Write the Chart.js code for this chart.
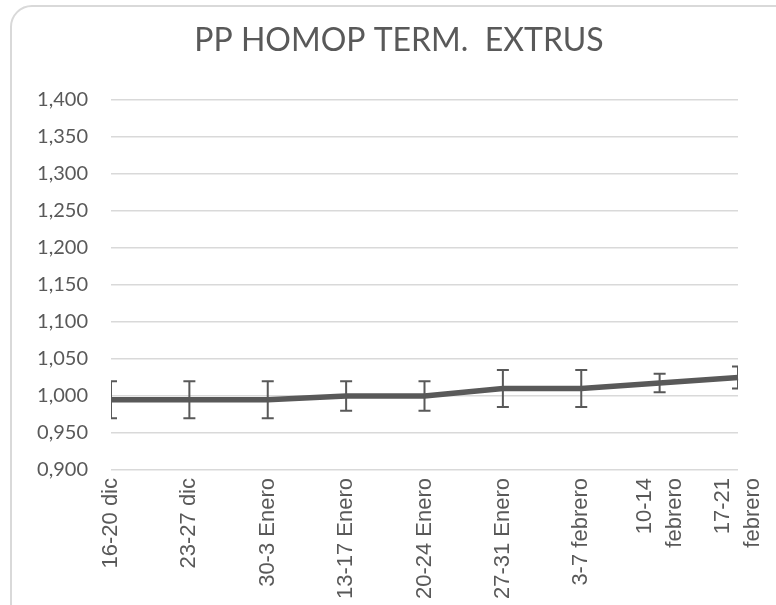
<!DOCTYPE html>
<html>
<head>
<meta charset="utf-8">
<script src="https://cdn.jsdelivr.net/npm/chart.js@4"></script>
<style>
    html, body { margin: 0; padding: 0; background: #fff; }
    .wrap { position: relative; width: 776px; height: 605px; overflow: hidden; }
    .frame { position: absolute; left: 10px; top: 5px; width: 790px; height: 620px; border: 2px solid #d9d9d9; border-radius: 22px; }
    canvas { position: absolute; left: 0; top: 0; }
</style>
</head>
<body>
<div class="wrap">
    <div class="frame"></div>
    <canvas id="chart" width="776" height="605"></canvas>
</div>
<script>
// Datos
const semanas = ['16-20 dic', '23-27 dic', '30-3 Enero', '13-17 Enero', '20-24 Enero', '27-31 Enero', '3-7 febrero', ['10-14', 'febrero'], ['17-21', 'febrero']];
const valores = [0.995, 0.995, 0.995, 1.000, 1.000, 1.010, 1.010, 1.0175, 1.025];
const errores = [0.025, 0.025, 0.025, 0.020, 0.020, 0.025, 0.025, 0.0125, 0.015];
const yTicks = [0.900, 0.950, 1.000, 1.050, 1.100, 1.150, 1.200, 1.250, 1.300, 1.350, 1.400];

const gris = '#595959';
const fmtTick = v => v.toFixed(3).replace('.', ',');

// barras de error, recortadas al área del gráfico
const errorBars = {
    id: 'errorBars',
    afterDatasetsDraw(chart) {
        const { ctx, chartArea: a, scales: { x, y } } = chart;
        ctx.save();
        ctx.beginPath();
        ctx.rect(a.left, a.top, a.right - a.left, a.bottom - a.top);
        ctx.clip();
        ctx.strokeStyle = gris;
        ctx.lineWidth = 2;
        valores.forEach((v, i) => {
            const px = x.getPixelForValue(i);
            const top = y.getPixelForValue(v + errores[i]);
            const bot = y.getPixelForValue(v - errores[i]);
            ctx.beginPath();
            ctx.moveTo(px, top); ctx.lineTo(px, bot);
            ctx.moveTo(px - 6, top); ctx.lineTo(px + 6, top);
            ctx.moveTo(px - 6, bot); ctx.lineTo(px + 6, bot);
            ctx.stroke();
        });
        ctx.restore();
    }
};

// etiquetas del eje x giradas, con las de dos líneas centradas en la marca
const xLabels = {
    id: 'xLabels',
    afterDraw(chart) {
        const { ctx, scales: { x } } = chart;
        const lineGap = 30;
        ctx.save();
        ctx.font = '22px "Liberation Sans", Arial, sans-serif';
        ctx.fillStyle = gris;
        ctx.textAlign = 'right';
        ctx.textBaseline = 'middle';
        semanas.forEach((lab, i) => {
            const lines = [].concat(lab);
            const px = x.getPixelForTick(i);
            lines.forEach((line, j) => {
                const cx = px + (j - (lines.length - 1) / 2) * lineGap;
                ctx.save();
                ctx.translate(cx, x.top + 8);
                ctx.rotate(-Math.PI / 2);
                ctx.fillText(line, 0, 0);
                ctx.restore();
            });
        });
        ctx.restore();
    }
};

new Chart(document.getElementById('chart'), {
    type: 'line',
    data: {
        labels: semanas,
        datasets: [{
            data: valores,
            borderColor: gris,
            borderWidth: 5.5,
            pointRadius: 0,
            tension: 0,
            fill: false
        }]
    },
    options: {
        responsive: false,
        animation: false,
        layout: { padding: { left: 35, right: 13, top: 0, bottom: 0 } },
        plugins: {
            legend: { display: false },
            tooltip: { enabled: false },
            title: {
                display: true,
                text: 'PP HOMOP TERM.  EXTRUS',
                color: gris,
                font: { family: 'Lato', size: 32, weight: 'normal' },
                padding: { top: 21, bottom: 40.6 }
            }
        },
        scales: {
            x: {
                offset: false,
                grid: { display: false, drawTicks: false },
                border: { display: false },
                ticks: { display: false },
                afterFit: s => { s.height = 135; s.paddingRight = 38; }
            },
            y: {
                min: 0.9,
                max: 1.4,
                afterBuildTicks: s => { s.ticks = yTicks.map(v => ({ value: v })); },
                grid: { color: '#d9d9d9', lineWidth: 1.5, drawTicks: false },
                border: { display: false },
                ticks: {
                    color: gris,
                    padding: 23,
                    font: { family: 'Lato', size: 20 },
                    callback: v => fmtTick(v)
                },
                afterFit: s => { s.width = 76; }
            }
        }
    },
    plugins: [errorBars, xLabels]
});
</script>
</body>
</html>
